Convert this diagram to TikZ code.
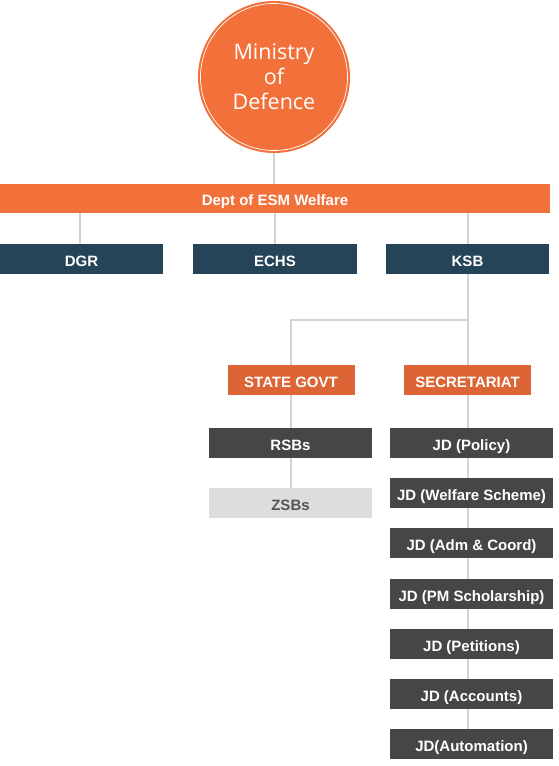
\documentclass[tikz,border=0pt]{standalone}
\usepackage{fontspec}
\setmainfont{Liberation Sans}
\newfontfamily\circfont{Open Sans}
\definecolor{orgc}{HTML}{F2703A}
\definecolor{orgd}{HTML}{DD6434}
\definecolor{navy}{HTML}{264457}
\definecolor{dgray}{HTML}{464646}
\definecolor{lgray}{HTML}{DDDDDD}
\definecolor{ztext}{HTML}{555555}
\definecolor{lineg}{HTML}{D3D3D3}
\pgfdeclarelayer{bg}
\pgfsetlayers{bg,main}
\tikzset{
  boxbase/.style={rectangle, inner sep=0pt, minimum height=30pt, text=white,
    text height=14.4pt, text depth=0.3pt,
    font=\bfseries\fontsize{15}{17}\selectfont},
  navybox/.style={boxbase, fill=navy, minimum width=163pt},
  orgbox/.style={boxbase, fill=orgd, minimum width=127pt},
  graybox/.style={boxbase, fill=dgray, minimum width=163pt},
  lightbox/.style={boxbase, fill=lgray, text=ztext, minimum width=163pt},
  conn/.style={draw=lineg, line width=2pt}
}
\begin{document}
\begin{tikzpicture}[x=1pt,y=-1pt]
\useasboundingbox (0,0) rectangle (558,766);
% circle
\node[circle, minimum size=152pt, inner sep=0pt, fill=orgc, text=white, align=center,
  font=\circfont\fontsize{21.5}{25}\selectfont] (mod) at (274,77) {Ministry\\of\\Defence};
\draw[white, line width=0.7pt] (mod.center) circle (73.5pt);
% bar
\node[boxbase, fill=orgc, minimum width=550pt, minimum height=29pt] (dept) at (275,198.5) {Dept of ESM Welfare};
% level 2
\node[navybox] (dgr) at (81.5,259) {DGR};
\node[navybox, minimum width=164pt] (echs) at (275,259) {ECHS};
\node[navybox] (ksb) at (467.5,259) {KSB};
% level 3
\node[orgbox] (sg) at (291,380) {STATE GOVT};
\node[orgbox] (sec) at (467.5,380) {SECRETARIAT};
\coordinate (split) at (467.5,320);
% state column
\node[graybox] (rsb) at (290.5,443) {RSBs};
\node[lightbox] (zsb) at (290.5,503) {ZSBs};
% secretariat column
\node[graybox] (jd1) at (471.5,443) {JD (Policy)};
\node[graybox] (jd2) at (471.5,493) {JD (Welfare Scheme)};
\node[graybox] (jd3) at (471.5,543) {JD (Adm \& Coord)};
\node[graybox] (jd4) at (471.5,594) {JD (PM Scholarship)};
\node[graybox] (jd5) at (471.5,644) {JD (Petitions)};
\node[graybox] (jd6) at (471.5,694) {JD (Accounts)};
\node[graybox] (jd7) at (471.5,744) {JD(Automation)};
% connectors
\begin{pgfonlayer}{bg}
\draw[conn] (mod.south) -- (mod.south |- dept.north);
\draw[conn] (dgr.north -| 80,0) -- (80,0 |- dept.south);
\draw[conn] (echs.north) -- (echs.north |- dept.south);
\draw[conn] (ksb.north) -- (ksb.north |- dept.south);
\draw[conn] (ksb.south) -- (split) -| (sg.north);
\draw[conn] (split) -- (sec.north);
\draw[conn] (sg.south) -- (sg.south |- rsb.north);
\draw[conn] (rsb.south -| sg.south) -- (sg.south |- zsb.north);
\draw[conn] (sec.south) -- (sec.south |- jd7.north);
\end{pgfonlayer}
\end{tikzpicture}
\end{document}
